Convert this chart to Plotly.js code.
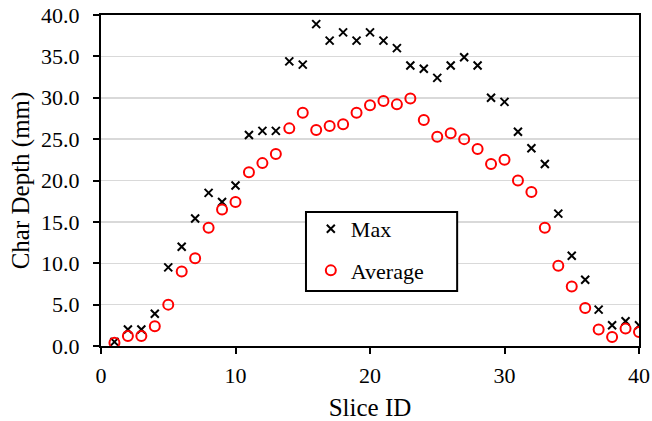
<!DOCTYPE html>
<html>
<head>
<meta charset="utf-8">
<script src="https://cdn.plot.ly/plotly-3.0.1.min.js"></script>
<style>html,body{margin:0;padding:0;background:#fff;} #chart{width:652px;height:421px;}</style>
</head>
<body>
<div id="chart"></div>
<script>
const sliceId = [1,2,3,4,5,6,7,8,9,10,11,12,13,14,15,16,17,18,19,20,21,22,23,24,25,26,27,28,29,30,31,32,33,34,35,36,37,38,39,40];
const maxDepth = [0.5,2.0,2.0,3.9,9.5,12.0,15.4,18.5,17.4,19.4,25.5,26.0,26.0,34.4,34.0,38.9,36.9,37.9,36.9,37.9,36.9,36.0,33.9,33.5,32.4,33.9,34.9,33.9,30.0,29.5,25.9,23.9,22.0,16.0,10.9,8.0,4.4,2.5,3.0,2.5];
const avgDepth = [0.4,1.2,1.2,2.4,5.0,9.0,10.6,14.3,16.5,17.4,21.0,22.1,23.2,26.3,28.2,26.1,26.6,26.8,28.2,29.1,29.6,29.2,29.9,27.3,25.3,25.7,25.0,23.8,22.0,22.5,20.0,18.6,14.3,9.7,7.2,4.6,2.0,1.1,2.1,1.7];
const yTicks = [0,5,10,15,20,25,30,35,40];
const xTicks = [0,10,20,30,40];

const font = 'Liberation Serif, Times New Roman, serif';
const traces = [
  {x: sliceId, y: maxDepth, name: 'Max', type: 'scatter', mode: 'markers', legendgroup: 'a',
   marker: {symbol: 'x-thin-open', size: 8, color: '#000', line: {color: '#000', width: 2}}},
  {x: sliceId, y: avgDepth, name: 'Average', type: 'scatter', mode: 'markers', legendgroup: 'b',
   marker: {symbol: 'circle-open', size: 10, color: '#ff0000', line: {color: '#ff0000', width: 2}}}
];
const layout = {
  width: 652, height: 421,
  margin: {l: 101, r: 13, t: 15, b: 75},
  paper_bgcolor: '#fff', plot_bgcolor: '#fff',
  font: {family: font, color: '#000', size: 22},
  showlegend: true,
  shapes: [{type: 'rect', xref: 'paper', yref: 'paper', x0: 0.381, x1: 0.662, y0: 0.166, y1: 0.405,
    fillcolor: '#fff', line: {color: '#000', width: 2}, layer: 'above'}],
  legend: {x: 0.39, y: 0.417, xanchor: 'left', yanchor: 'top', bgcolor: 'rgba(0,0,0,0)',
    borderwidth: 0, font: {family: font, size: 22, color: '#000'}, itemwidth: 30,
    traceorder: 'grouped', tracegroupgap: 10},
  xaxis: {range: [0, 40], tickvals: xTicks, ticktext: xTicks.map(String), showgrid: false, zeroline: false,
    showline: true, linecolor: '#000', linewidth: 2, mirror: true,
    ticks: 'outside', ticklen: 6, tickwidth: 2, tickcolor: '#000', ticklabelstandoff: 3,
    tickfont: {family: font, size: 22, color: '#000'},
    title: {text: 'Slice ID', font: {family: font, size: 25, color: '#000'}, standoff: 28}},
  yaxis: {range: [0, 40], tickvals: yTicks, ticktext: yTicks.map(v => v.toFixed(1)),
    showgrid: true, gridcolor: '#d9d9d9', gridwidth: 1.5, zeroline: false,
    showline: true, linecolor: '#000', linewidth: 2, mirror: true,
    ticks: 'outside', ticklen: 6, tickwidth: 2, tickcolor: '#000', ticklabelstandoff: 9,
    tickfont: {family: font, size: 22, color: '#000'},
    title: {text: 'Char Depth (mm)', font: {family: font, size: 25, color: '#000'}, standoff: 4}}
};
Plotly.newPlot('chart', traces, layout, {displayModeBar: false, staticPlot: true});
</script>
</body>
</html>
